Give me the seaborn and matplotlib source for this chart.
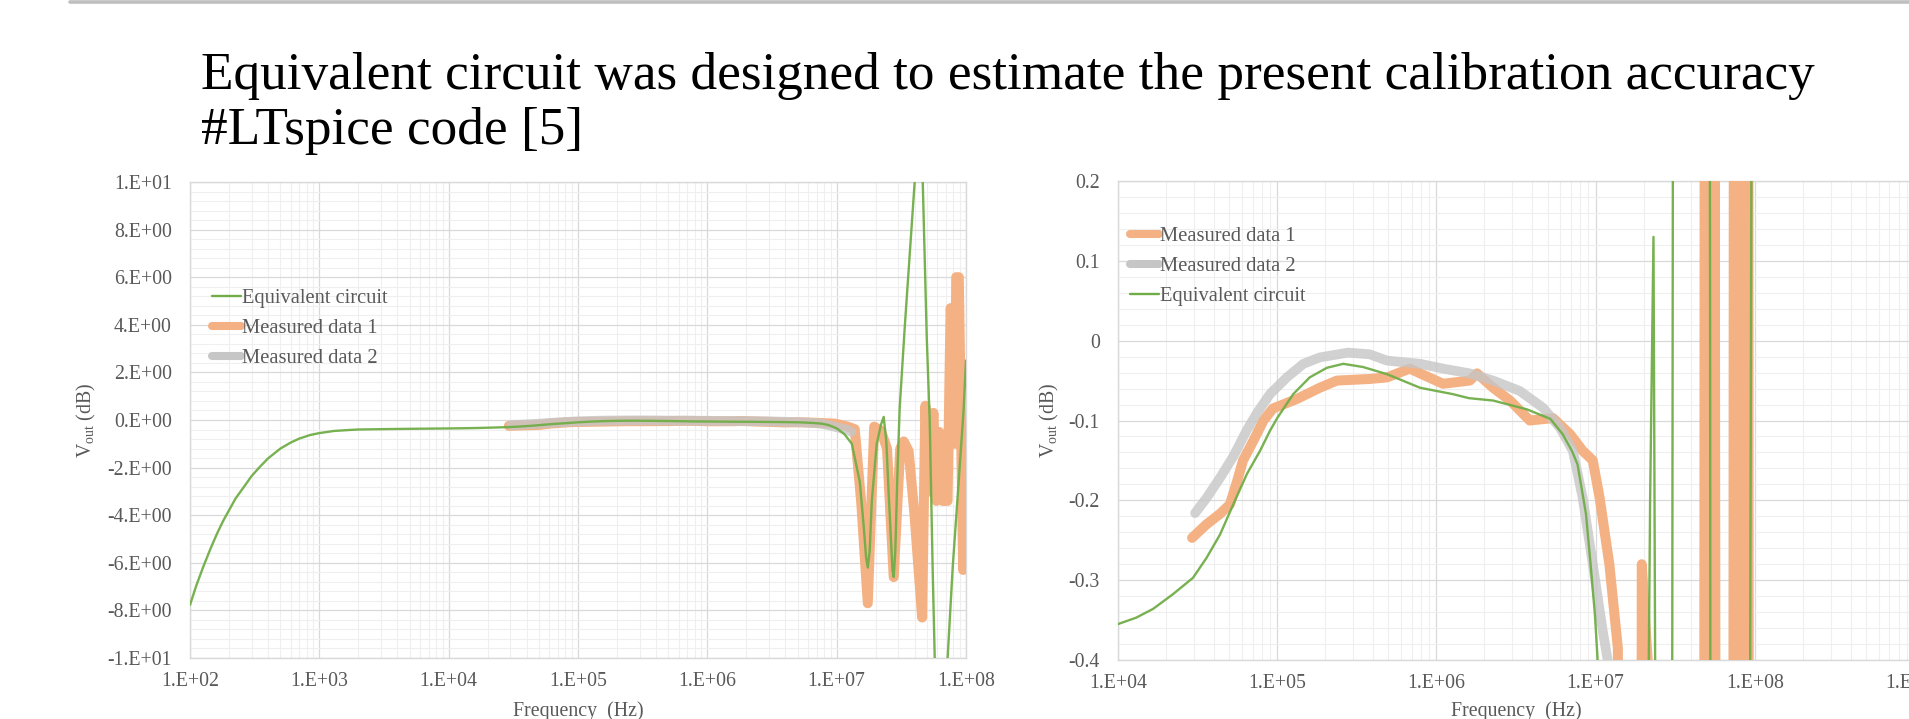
import numpy as np
import pandas as pd
import matplotlib
matplotlib.use("Agg")
import matplotlib.pyplot as plt
from matplotlib.lines import Line2D
from matplotlib.ticker import FixedLocator, FixedFormatter, LogLocator, MultipleLocator, NullFormatter
import seaborn as sns

# ---------------- data ----------------
eq_freq = [1.0e2, 1.12e2, 1.27e2, 1.43e2, 1.61e2, 1.8e2, 2.0e2, 2.25e2, 2.58e2, 3.0e2, 3.48e2, 4.0e2,
           5.0e2, 6.0e2, 7.0e2, 8.5e2, 1.0e3, 1.3e3, 1.7e3, 2.0e3, 3.0e3, 5.0e3, 1.0e4, 1.3e4,
           1.66e4, 2.2e4, 2.96e4, 3.6e4, 4.37e4, 5.3e4, 6.45e4, 7.8e4, 9.0e4, 1.0e5, 1.26e5, 1.6e5,
           2.05e5, 2.6e5, 3.46e5, 4.9e5, 7.9e5, 1.27e6, 1.6e6, 2.27e6, 3.7e6, 5.2e6, 6.2e6, 7.1e6,
           7.7e6, 8.7e6, 9.3e6, 9.9e6, 1.03e7, 1.15e7, 1.31e7, 1.51e7, 1.62e7, 1.69e7, 1.74e7,
           1.80e7, 1.87e7, 2.04e7, 2.2e7, 2.31e7, 2.42e7, 2.52e7, 2.70e7, 2.76e7, 2.84e7, 2.96e7,
           3.07e7, 3.36e7, 4.01e7, 4.3e7, 4.63e7, 4.97e7, 5.24e7, 5.52e7, 5.73e7, 6.4e7, 7.21e7,
           7.89e7, 8.93e7, 9.6e7, 1.0e8]
eq_db = [-7.77, -6.95, -6.15, -5.45, -4.8, -4.25, -3.8, -3.3, -2.85, -2.35, -1.96, -1.62,
         -1.2, -0.95, -0.78, -0.63, -0.55, -0.46, -0.42, -0.40, -0.385, -0.37, -0.355, -0.347,
         -0.336, -0.318, -0.297, -0.272, -0.243, -0.205, -0.167, -0.138, -0.113, -0.097, -0.067, -0.046,
         -0.034, -0.029, -0.033, -0.042, -0.059, -0.067, -0.072, -0.075, -0.086, -0.098, -0.117, -0.138,
         -0.155, -0.217, -0.28, -0.343, -0.40, -0.6, -1.0, -2.6, -4.5, -5.8, -6.2,
         -5.5, -3.4, -1.0, -0.2, 0.13, -0.9, -3.0, -6.3, -6.6, -5.5, -2.0,
         0.5, 3.9, 10.0, 12.5, 10.0, 3.5, 0.0, -6.2, -10.0, -13.0, -10.0,
         -6.2, -2.0, 0.5, 2.5]

m1_freq = [2.92e4, 3.6e4, 4.37e4, 5.05e4, 5.6e4, 6.1e4, 7.1e4, 8.2e4, 9.4e4, 1.33e5, 1.85e5, 2.37e5,
           3.8e5, 4.9e5, 6.8e5, 7.9e5, 1.1e6, 1.62e6, 1.8e6, 2.27e6, 2.9e6, 3.86e6, 5.4e6, 6.9e6,
           8.3e6, 9.6e6, 1.06e7, 1.22e7, 1.38e7, 1.55e7, 1.74e7, 1.95e7, 2.2e7, 2.45e7, 2.76e7,
           3.1e7, 3.3e7, 3.6e7, 4.0e7, 4.58e7, 4.85e7, 5.15e7, 5.6e7, 5.9e7, 6.2e7, 6.6e7, 7.2e7,
           7.6e7, 7.9e7, 8.2e7, 8.4e7, 8.8e7, 9.5e7, 1.0e8]
m1_db = [-0.247, -0.23, -0.217, -0.205, -0.176, -0.15, -0.125, -0.10, -0.085, -0.073, -0.059, -0.05,
         -0.048, -0.046, -0.035, -0.041, -0.054, -0.05, -0.041, -0.059, -0.075, -0.10, -0.097, -0.117,
         -0.138, -0.15, -0.197, -0.28, -0.385, -3.5, -7.7, -0.28, -0.45, -1.2, -6.6,
         -1.2, -0.9, -1.3, -4.0, -8.3, 0.6, -3.0, 0.3, -3.4, -0.5, -3.4, -3.4,
         4.7, 4.0, -1.0, 6.0, 6.0, -6.3, -1.3]

m2_freq = [3.05e4, 3.6e4, 4.37e4, 5.3e4, 6.45e4, 7.5e4, 9.0e4, 1.15e5, 1.46e5, 1.85e5, 2.78e5, 3.8e5,
           4.9e5, 7.9e5, 1.1e6, 1.62e6, 2.27e6, 3.34e6, 4.67e6, 5.97e6, 7.2e6, 8.3e6, 9.6e6, 1.11e7,
           1.19e7, 1.3e7]
m2_db = [-0.216, -0.197, -0.172, -0.145, -0.112, -0.09, -0.067, -0.046, -0.029, -0.021, -0.015, -0.017,
         -0.025, -0.029, -0.035, -0.041, -0.05, -0.063, -0.084, -0.109, -0.138, -0.197, -0.28, -0.364,
         -0.40, -0.5]

series_names = ["Equivalent circuit", "Measured data 1", "Measured data 2"]

left_xticks = [1e2, 1e3, 1e4, 1e5, 1e6, 1e7, 1e8]
left_xticklabels = ["1.E+02", "1.E+03", "1.E+04", "1.E+05", "1.E+06", "1.E+07", "1.E+08"]
left_yticks = [-10, -8, -6, -4, -2, 0, 2, 4, 6, 8, 10]
left_yticklabels = ["-1.E+01", "-8.E+00", "-6.E+00", "-4.E+00", "-2.E+00", "0.E+00",
                    "2.E+00", "4.E+00", "6.E+00", "8.E+00", "1.E+01"]
right_xticks = [1e4, 1e5, 1e6, 1e7, 1e8, 1e9]
right_xticklabels = ["1.E+04", "1.E+05", "1.E+06", "1.E+07", "1.E+08", "1.E+09"]
right_yticks = [-0.4, -0.3, -0.2, -0.1, 0.0, 0.1, 0.2]
right_yticklabels = ["-0.4", "-0.3", "-0.2", "-0.1", "0", "0.1", "0.2"]

title_line1 = "Equivalent circuit was designed to estimate the present calibration accuracy"
title_line2 = "#LTspice code [5]"
xlabel = "Frequency  (Hz)"
ylabel = r"V$_{\mathrm{out}}$ (dB)"

# ---------------- style ----------------
sns.set_theme(style="white")
plt.rcParams['font.family'] = ['Liberation Serif', 'DejaVu Serif']
plt.rcParams['mathtext.fontset'] = 'custom'
plt.rcParams['mathtext.rm'] = 'Liberation Serif'
plt.rcParams['mathtext.it'] = 'Liberation Serif:italic'
plt.rcParams['axes.unicode_minus'] = False

GREEN = '#70AD47'
ORANGE = '#F4B183'
GRAY = '#C6C6C6'
TXT = '#595959'
MAJ = '#D9D9D9'
MIN = '#EFEFEF'

W, H = 1909, 719
fig = plt.figure(figsize=(W / 100, H / 100), dpi=100)

eq_df = pd.DataFrame({"f": eq_freq, "v": eq_db})
m1_df = pd.DataFrame({"f": m1_freq, "v": m1_db})
m2_df = pd.DataFrame({"f": m2_freq, "v": m2_db})


def draw_series(ax):
    sns.lineplot(data=m1_df, x="f", y="v", ax=ax, color=ORANGE, lw=7.2, sort=False,
                 estimator=None, solid_capstyle='round', solid_joinstyle='round', zorder=3)
    sns.lineplot(data=m2_df, x="f", y="v", ax=ax, color=GRAY, lw=7.0, alpha=0.8, sort=False,
                 estimator=None, solid_capstyle='round', solid_joinstyle='round', zorder=4)
    sns.lineplot(data=eq_df, x="f", y="v", ax=ax, color=GREEN, lw=1.7, alpha=0.95, sort=False,
                 estimator=None, solid_joinstyle='round', zorder=5)


def style_axes(ax, xticks, xlabels, yticks, ylabels, yminor, xlim, ylim):
    ax.set_xscale('log')
    ax.set_xlim(*xlim)
    ax.set_ylim(*ylim)
    ax.xaxis.set_major_locator(FixedLocator(xticks))
    ax.xaxis.set_major_formatter(FixedFormatter(xlabels))
    ax.xaxis.set_minor_locator(LogLocator(base=10, subs=np.arange(2, 10), numticks=50))
    ax.xaxis.set_minor_formatter(NullFormatter())
    ax.yaxis.set_major_locator(FixedLocator(yticks))
    ax.yaxis.set_major_formatter(FixedFormatter(ylabels))
    ax.yaxis.set_minor_locator(MultipleLocator(yminor))
    ax.grid(True, which='major', color=MAJ, lw=0.9)
    ax.grid(True, which='minor', color=MIN, lw=0.8)
    ax.set_axisbelow(True)
    ax.tick_params(which='both', length=0, labelcolor=TXT, labelsize=14.3)
    ax.tick_params(axis='x', pad=10)
    ax.tick_params(axis='y', pad=13)
    for s in ax.spines.values():
        s.set_color(MAJ)
        s.set_linewidth(1.0)
    ax.set_xlabel("")
    ax.set_ylabel("")


# left chart
ax1 = fig.add_axes([190 / W, (H - 658) / H, 776 / W, 476 / H])
draw_series(ax1)
style_axes(ax1, left_xticks, left_xticklabels, left_yticks, left_yticklabels, 0.4,
           (1e2, 1e8), (-10, 10))
ax1.text(0.5, (658 - 716) / 476, xlabel, transform=ax1.transAxes, ha='center', va='baseline',
         fontsize=14.3, color=TXT)
ax1.text((86 - 190) / 776, 0.5, ylabel, transform=ax1.transAxes, ha='center', va='center',
         rotation=90, fontsize=14.3, color=TXT)

h_eq = Line2D([], [], color=GREEN, lw=1.7)
h_m1 = Line2D([], [], color=ORANGE, lw=5.8, solid_capstyle='round')
h_m2 = Line2D([], [], color=GRAY, lw=5.8, solid_capstyle='round')

ax1.legend([h_eq, h_m1, h_m2], series_names, loc='upper left',
           bbox_to_anchor=((212 - 190) / 776, (658 - 289) / 476), frameon=False, fontsize=14.8,
           handlelength=1.4, handletextpad=0.05, labelspacing=0.5, borderpad=0, borderaxespad=0,
           labelcolor=TXT)

# right chart
ax2 = fig.add_axes([1118 / W, (H - 660) / H, 796 / W, 479 / H])
draw_series(ax2)
style_axes(ax2, right_xticks, right_xticklabels, right_yticks, right_yticklabels, 0.02,
           (1e4, 1e9), (-0.4, 0.2))
ax2.text(0.5, (660 - 716) / 479, xlabel, transform=ax2.transAxes, ha='center', va='baseline',
         fontsize=14.3, color=TXT)
ax2.text((1049 - 1118) / 796, 0.5, ylabel, transform=ax2.transAxes, ha='center', va='center',
         rotation=90, fontsize=14.3, color=TXT)
ax2.legend([h_m1, h_m2, h_eq], [series_names[1], series_names[2], series_names[0]],
           loc='upper left', bbox_to_anchor=((1130 - 1118) / 796, (660 - 227) / 479),
           frameon=False, fontsize=14.8, handlelength=1.4, handletextpad=0.05, labelspacing=0.5,
           borderpad=0, borderaxespad=0, labelcolor=TXT)

# title lines and top rule
fig.text(201 / W, 1 - 89 / H, title_line1, ha='left', va='baseline', fontsize=38.3, color='black')
fig.text(201 / W, 1 - 144 / H, title_line2, ha='left', va='baseline', fontsize=38.3, color='black')
fig.add_artist(Line2D([70 / W, 1.0], [1 - 1.5 / H, 1 - 1.5 / H], transform=fig.transFigure,
                      color='#BFBFBF', lw=2.6))

fig.savefig("out.png", dpi=100)
